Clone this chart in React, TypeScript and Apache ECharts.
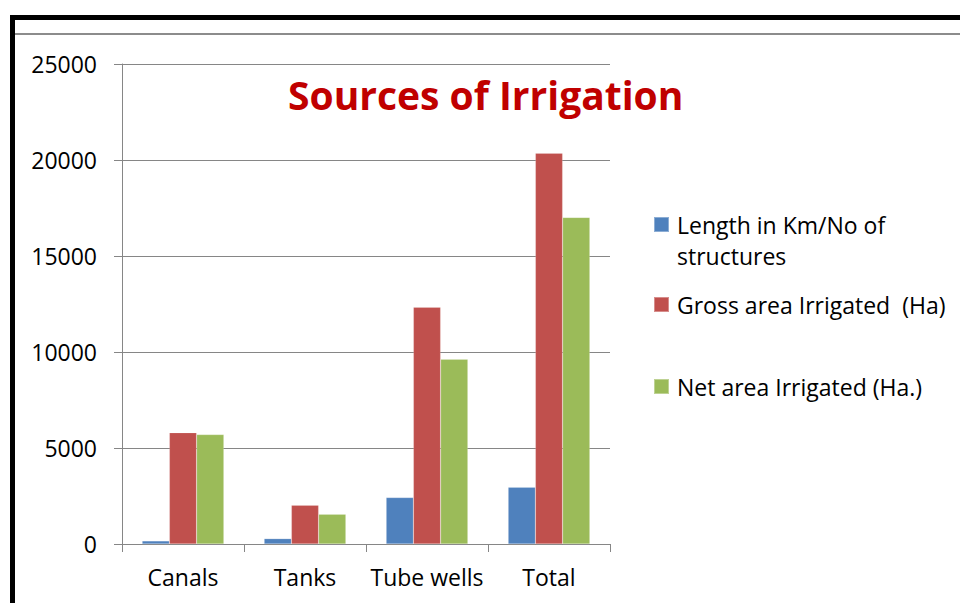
import React, { useEffect, useRef } from "react";
import * as echarts from "echarts";

const categories = ["Canals", "Tanks", "Tube wells", "Total"];
const seriesNames = [
  "Length in Km/No of structures",
  "Gross area Irrigated  (Ha)",
  "Net area Irrigated (Ha.)",
];
const lengthValues = [160, 280, 2420, 2960];
const grossValues = [5800, 2020, 12330, 20350];
const netValues = [5700, 1550, 9620, 17010];
const colors = ["#4F81BD", "#C0504D", "#9BBB59"];
const yTicks = { min: 0, max: 25000, interval: 5000 };
const titleText = "Sources of Irrigation";

const FONT = "Open Sans";

export default function App() {
  const ref = useRef<HTMLDivElement>(null);
  useEffect(() => {
    document.body.style.margin = "0";
    const chart = echarts.init(ref.current!, null, { renderer: "svg" });
    const values = [lengthValues, grossValues, netValues];
    const legendText = {
      fontFamily: FONT,
      fontSize: 23,
      color: "#000",
      lineHeight: 31,
      padding: [0, 0, 0, 3],
    };
    chart.setOption({
      animation: false,
      backgroundColor: "#fff",
      title: {
        text: titleText,
        left: 288,
        top: 75,
        padding: 0,
        textStyle: {
          fontFamily: FONT,
          fontWeight: "bold",
          fontSize: 39,
          color: "#C00000",
        },
      },
      grid: { left: 122, right: 350, top: 64, bottom: 59, containLabel: false },
      legend: [
        {
          data: [seriesNames[0]],
          left: 653,
          top: 209,
          orient: "vertical",
          icon: "path://M0,0L15,0L15,15L0,15ZM0,46",
          itemWidth: 15,
          itemHeight: 46,
          formatter: () => "Length in Km/No of\nstructures",
          textStyle: legendText,
          padding: 0,
        },
        {
          data: [seriesNames[1]],
          left: 653,
          top: 289,
          icon: "rect",
          itemWidth: 15,
          itemHeight: 15,
          textStyle: legendText,
          padding: 0,
        },
        {
          data: [seriesNames[2]],
          left: 653,
          top: 371,
          icon: "rect",
          itemWidth: 15,
          itemHeight: 15,
          textStyle: legendText,
          padding: 0,
        },
      ],
      xAxis: {
        type: "category",
        data: categories,
        boundaryGap: true,
        axisLine: { lineStyle: { color: "#868686", width: 1 } },
        axisTick: { show: true, length: 8, alignWithLabel: false, lineStyle: { color: "#868686" } },
        axisLabel: {
          fontFamily: FONT,
          fontSize: 23,
          color: "#000",
          margin: 21,
          interval: 0,
        },
      },
      yAxis: {
        type: "value",
        min: yTicks.min,
        max: yTicks.max,
        interval: yTicks.interval,
        axisLine: { show: true, lineStyle: { color: "#868686", width: 1 } },
        axisTick: { show: true, length: 8, lineStyle: { color: "#868686" } },
        splitLine: { lineStyle: { color: "#868686", width: 1 } },
        axisLabel: {
          fontFamily: FONT,
          fontSize: 23,
          color: "#000",
          margin: 25,
          formatter: (v: number) => String(v),
        },
      },
      series: seriesNames.map((name, i) => ({
        name,
        type: "bar",
        data: values[i],
        barGap: "0%",
        barCategoryGap: "33%",
        itemStyle: { color: colors[i], borderColor: "rgba(255,255,255,0.35)", borderWidth: 0.5 },
      })),
      graphic: [
        { type: "rect", shape: { x: 10, y: 15, width: 950, height: 5 }, style: { fill: "#000" } },
        { type: "rect", shape: { x: 10, y: 15, width: 5, height: 588 }, style: { fill: "#000" } },
        { type: "rect", shape: { x: 15, y: 33, width: 945, height: 2 }, style: { fill: "#8C8C8C" } },
      ],
    });
    return () => chart.dispose();
  }, []);
  return <div ref={ref} style={{ width: 960, height: 603 }} />;
}
